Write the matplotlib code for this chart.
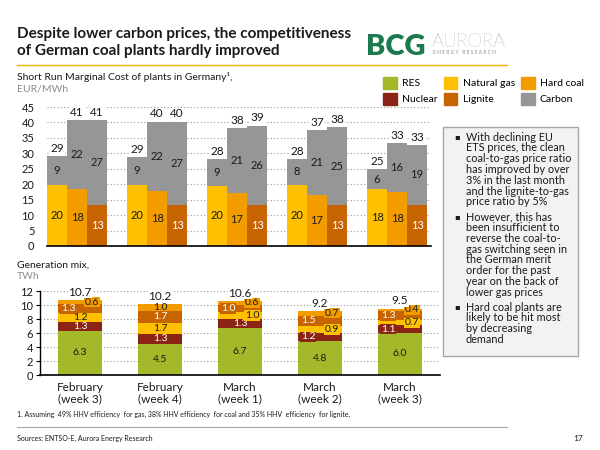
import matplotlib
matplotlib.use('Agg')
import matplotlib.pyplot as plt
from matplotlib.patches import Rectangle, Patch
from matplotlib.lines import Line2D

plt.rcParams['font.family'] = ['Lato', 'DejaVu Sans']

# ---- data: short run marginal cost (EUR/MWh) ----
weeks = ['February\n(week 3)', 'February\n(week 4)', 'March\n(week 1)',
         'March\n(week 2)', 'March\n(week 3)']
gas_fuel = [19.8, 19.8, 19.5, 19.8, 18.4]
gas_carbon = [9.2, 9.1, 8.7, 8.4, 6.4]
coal_fuel = [18.4, 17.9, 17.2, 16.6, 17.5]
coal_carbon = [22.4, 22.4, 21.1, 20.8, 15.9]
lignite_fuel = [13.3, 13.3, 13.3, 13.3, 13.4]
lignite_carbon = [27.4, 27.0, 25.7, 25.1, 19.2]

# ---- data: generation mix (TWh) ----
res = [6.3, 4.5, 6.7, 4.84, 6.0]
nuclear = [1.3, 1.3, 1.3, 1.22, 1.1]
nat_gas = [1.2, 1.7, 1.0, 0.92, 0.7]
lignite = [1.3, 1.7, 1.0, 1.50, 1.3]
hard_coal = [0.6, 1.0, 0.6, 0.72, 0.4]

C_RES = '#a4b82a'
C_NUC = '#8b2414'
C_GAS = '#ffc000'
C_COAL = '#f39c00'
C_LIG = '#c86400'
C_CARB = '#969696'
DARK = '#1a1a1a'

W, H = 600, 450
fig = plt.figure(figsize=(6, 4.5), dpi=100)


def fx(x):
    return x / W


def fy(y):
    return 1 - y / H


# ---- header ----
fig.text(fx(17), fy(38), 'Despite lower carbon prices, the competitiveness',
         fontsize=11.0, fontweight='bold', color=DARK, va='baseline')
fig.text(fx(17), fy(55), 'of German coal plants hardly improved',
         fontsize=11.0, fontweight='bold', color=DARK, va='baseline')
fig.text(fx(366), fy(55), 'BCG', fontsize=21, fontweight='heavy',
         color='#1d7a4f', va='baseline')
fig.text(fx(432), fy(47), 'AURORA', fontsize=13.5, color='#8c8c8c',
         va='baseline', fontweight='light')
fig.text(fx(433), fy(54), 'E N E R G Y   R E S E A R C H', fontsize=3.5,
         color='#8c8c8c', va='baseline')
fig.add_artist(Line2D([fx(17), fx(507)], [fy(65), fy(65)], color='#f0b400',
                      lw=1))

fig.text(fx(17), fy(80), 'Short Run Marginal Cost of plants in Germany¹,',
         fontsize=7.5, color=DARK, va='baseline')
fig.text(fx(17), fy(91), 'EUR/MWh', fontsize=7.5, color='#8c8c8c',
         va='baseline')

# ---- legend ----
handles = [Patch(color=C_RES, label='RES'), Patch(color=C_NUC, label='Nuclear'),
           Patch(color=C_GAS, label='Natural gas'), Patch(color=C_LIG, label='Lignite'),
           Patch(color=C_COAL, label='Hard coal'), Patch(color=C_CARB, label='Carbon')]
fig.legend(handles=handles, ncol=3, loc='upper left',
           bbox_to_anchor=(fx(376), fy(70)), frameon=False, fontsize=7.5,
           handlelength=1.3, handleheight=1.3, handletextpad=0.5,
           columnspacing=0.6, labelspacing=0.45, borderpad=0.2)

# ---- top chart ----
ax1 = fig.add_axes([fx(47), fy(246), 384 / W, 139 / H])
for i in range(len(weeks)):
    groups = [(gas_fuel[i], gas_carbon[i], C_GAS, DARK),
              (coal_fuel[i], coal_carbon[i], C_COAL, DARK),
              (lignite_fuel[i], lignite_carbon[i], C_LIG, 'white')]
    for j, (fuel, carb, col, tcol) in enumerate(groups):
        x = 4 * i + j
        ax1.bar(x, fuel, width=1.0, color=col, zorder=2)
        ax1.bar(x, carb, bottom=fuel, width=1.0, color=C_CARB, zorder=2)
        ax1.text(x, fuel / 2, '%.0f' % fuel, ha='center', va='center',
                 fontsize=8, color=tcol, zorder=3)
        ax1.text(x, fuel + carb / 2, '%.0f' % carb, ha='center', va='center',
                 fontsize=8, color=DARK, zorder=3)
        ax1.annotate('%.0f' % (fuel + carb), (x, fuel + carb),
                     xytext=(0, 1.5), textcoords='offset points',
                     ha='center', va='bottom', fontsize=8.5, color=DARK,
                     zorder=3, bbox=dict(fc='white', ec='none', pad=0.5))

ax1.set_xlim(-0.5, 18.7)
ax1.set_ylim(0, 45)
ax1.set_yticks(range(0, 46, 5))
ax1.set_xticks([])
ax1.yaxis.grid(True, linestyle=(0, (1, 2)), color='#999999', lw=0.8, zorder=0)
ax1.set_axisbelow(True)
for s in ['top', 'right', 'left']:
    ax1.spines[s].set_visible(False)
ax1.spines['bottom'].set_linewidth(1.2)
ax1.tick_params(axis='y', length=0, pad=9, labelsize=8, labelcolor=DARK)

# ---- bottom chart ----
fig.text(fx(17), fy(268), 'Generation mix,', fontsize=7.5, color=DARK,
         va='baseline')
fig.text(fx(17), fy(279), 'TWh', fontsize=7.5, color='#8c8c8c', va='baseline')

ax2 = fig.add_axes([fx(40), fy(375), 400 / W, 84 / H])
# label placement: -1 left, 0 centre, 1 right (with a box)
series = [(res, C_RES, DARK, [0, 0, 0, 0, 0]),
          (nuclear, C_NUC, 'white', [0, 0, 0, -1, -1]),
          (nat_gas, C_GAS, DARK, [0, 0, 1, 1, 1]),
          (lignite, C_LIG, 'white', [-1, 0, -1, -1, -1]),
          (hard_coal, C_COAL, DARK, [1, 0, 1, 1, 1])]
bottoms = [0.0] * len(weeks)
bw = 0.55
for vals, col, tcol, pos in series:
    ax2.bar(range(len(weeks)), vals, bottom=bottoms, width=bw, color=col,
            zorder=2)
    for i, v in enumerate(vals):
        yc = bottoms[i] + v / 2
        box = None
        if pos[i] != 0:
            box = dict(fc=col, ec='none', pad=0.5)
        ax2.text(i + pos[i] * 0.15, yc, '%.1f' % v, ha='center', va='center',
                 fontsize=7.5, color=tcol, zorder=4, bbox=box)
    bottoms = [b + v for b, v in zip(bottoms, vals)]

for i, tot in enumerate(bottoms):
    ax2.annotate('%.1f' % tot, (i, tot), xytext=(0, 1.5),
                 textcoords='offset points', ha='center', va='bottom',
                 fontsize=8.5, color=DARK, zorder=5,
                 bbox=dict(fc='white', ec='none', pad=0.3))

ax2.set_xlim(-0.5, 4.5)
ax2.set_ylim(0, 12)
ax2.set_yticks(range(0, 13, 2))
ax2.set_xticks(range(len(weeks)))
ax2.set_xticklabels(weeks, fontsize=8.5, color=DARK, linespacing=1.0)
ax2.yaxis.grid(True, linestyle=(0, (1, 2)), color='#999999', lw=0.8, zorder=0)
ax2.set_axisbelow(True)
for s in ['top', 'right']:
    ax2.spines[s].set_visible(False)
ax2.spines['bottom'].set_linewidth(1.2)
ax2.spines['left'].set_linewidth(1.0)
ax2.tick_params(axis='y', length=3, pad=2, labelsize=8, labelcolor=DARK)
ax2.tick_params(axis='x', length=0, pad=5)

# ---- comment box ----
fig.add_artist(Rectangle((fx(443), fy(356)), 135 / W, 229 / H,
                         transform=fig.transFigure, fc='#f2f2f2',
                         ec='#a6a6a6', lw=1))
bullets = [
    ['With declining EU', 'ETS prices, the clean', 'coal-to-gas price ratio',
     'has improved by over', '3% in the last month', 'and the lignite-to-gas',
     'price ratio by 5%'],
    ['However, this has', 'been insufficient to', 'reverse the coal-to-',
     'gas switching seen in', 'the German merit', 'order for the past',
     'year on the back of', 'lower gas prices'],
    ['Hard coal plants are', 'likely to be hit most', 'by decreasing',
     'demand'],
]
y = 137
for lines in bullets:
    fig.text(fx(454), fy(y), '▪', fontsize=6, color=DARK, va='center',
             family='DejaVu Sans')
    for ln in lines:
        fig.text(fx(466), fy(y), ln, fontsize=7.8, color=DARK, va='center')
        y += 10.8
    y += 4

# ---- footer ----
fig.text(fx(17), fy(417), '1. Assuming  49% HHV efficiency  for gas, 38% HHV '
         'efficiency  for coal and 35% HHV  efficiency  for lignite.',
         fontsize=5, color=DARK, va='baseline')
fig.add_artist(Line2D([fx(17), fx(507)], [fy(427), fy(427)], color='#a6a6a6',
                      lw=0.8))
fig.text(fx(17), fy(441), 'Sources: ENTSO-E, Aurora Energy Research',
         fontsize=5, color=DARK, va='baseline')
fig.text(fx(583), fy(441), '17', fontsize=6, color=DARK, va='baseline',
         ha='right')

fig.savefig('out.png', dpi=100)
